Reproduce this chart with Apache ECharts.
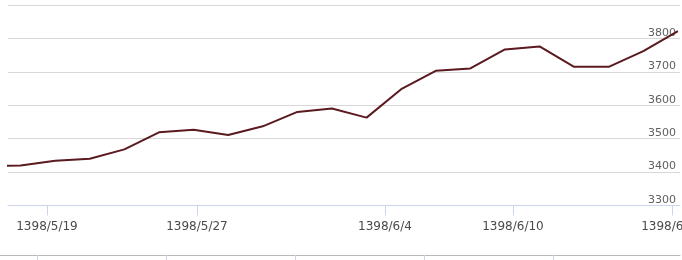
<!DOCTYPE html>
<html>
<head>
<meta charset="utf-8">
<script src="https://cdn.jsdelivr.net/npm/echarts@6/dist/echarts.min.js"></script>
<style>html,body{margin:0;padding:0;background:#fff;}#c{width:682px;height:260px;}</style>
</head>
<body>
<div id="c"></div>
<script>
// price values, one per trading day (index 0 is partly off the left edge)
const values = [3418, 3420, 3434, 3440, 3468, 3519, 3527, 3511, 3537, 3580, 3590,
                3563, 3648, 3703, 3710, 3767, 3776, 3715, 3715, 3762, 3822];
// date ticks on the ordinal (index) axis
const tickIndex = [1.763, 6.098, 11.532, 15.231, 19.827];
const tickLabels = ['1398/5/19', '1398/5/27', '1398/6/4', '1398/6/10', '1398/6/16'];
const yTicks = [3300, 3400, 3500, 3600, 3700, 3800];

const chart = echarts.init(document.getElementById('c'), null, {renderer: 'canvas'});
const seriesData = values.map((v, i) => [i, v]);
chart.setOption({
  animation: false,
  grid: [
    {left: 8, right: 2, top: 5, bottom: 54.5, outerBoundsMode: 'none', containLabel: false},
    {left: 0, right: 2, top: 255, height: 0, outerBoundsMode: 'none', containLabel: false}
  ],
  xAxis: [{
    type: 'value', gridIndex: 0, min: 0.636, max: 20.06,
    splitLine: {show: false},
    axisLine: {show: true, lineStyle: {color: '#ccd6eb', width: 1}},
    axisTick: {show: true, customValues: tickIndex, length: 10, lineStyle: {color: '#ccd6eb'}},
    axisLabel: {
      show: true, customValues: tickIndex, margin: 15,
      color: '#4a4a4a', fontSize: 12, fontFamily: 'DejaVu Sans',
      formatter: function (v) {
        const k = tickIndex.findIndex(t => Math.abs(t - v) < 1e-6);
        return k >= 0 ? tickLabels[k] : '';
      }
    }
  }, {
    type: 'value', gridIndex: 1, min: 0, max: 680,
    splitLine: {show: false},
    axisLine: {show: true, lineStyle: {color: '#b8b8bc', width: 1}},
    axisTick: {show: true, customValues: [37, 166, 295, 424, 553], length: 6, lineStyle: {color: '#ccd6eb'}},
    axisLabel: {show: false}
  }],
  yAxis: [{
    type: 'value', gridIndex: 0, min: 3300, max: 3900, interval: 100,
    position: 'right',
    axisLine: {show: false}, axisTick: {show: false},
    splitLine: {show: true, lineStyle: {color: '#d8d8d8', width: 1}},
    axisLabel: {
      show: true, inside: true, margin: 4, align: 'right', verticalAlign: 'bottom',
      padding: [0, 0, 0, 0],
      customValues: yTicks,
      formatter: function (v) { return String(v); },
      color: '#606060', fontSize: 11, fontFamily: 'DejaVu Sans'
    }
  }, {
    type: 'value', gridIndex: 1, show: false
  }],
  series: [{
    type: 'line', xAxisIndex: 0, yAxisIndex: 0,
    data: seriesData, showSymbol: false, symbol: 'none',
    lineStyle: {color: '#5a1a20', width: 2},
    clip: true
  }]
});
</script>
</body>
</html>
